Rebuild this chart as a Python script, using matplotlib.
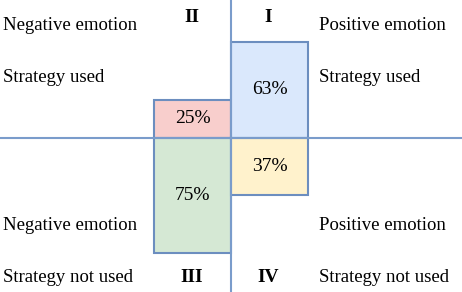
import matplotlib.pyplot as plt

# shares per group (percent)
groups = ['Negative emotion', 'Positive emotion']
used = [25, 63]
not_used = [75, 37]
used_colors = ['#F8CECC', '#DAE8FC']
not_used_colors = ['#D5E8D4', '#FFF2CC']
quadrants = ['II', 'I', 'III', 'IV']

plt.rcParams['font.family'] = ['Liberation Serif', 'DejaVu Serif']

fig = plt.figure(figsize=(4.62, 2.92), dpi=100)
ax = fig.add_axes([0, 0, 1, 1])

xpos = [-0.5, 0.5]
edge = '#6C8EBF'
ax.bar(xpos, used, width=1, color=used_colors, edgecolor=edge, linewidth=1.5, zorder=2)
ax.bar(xpos, [-v for v in not_used], width=1, color=not_used_colors, edgecolor=edge,
       linewidth=1.5, zorder=2)

for x, u, n in zip(xpos, used, not_used):
    ax.text(x, u / 2, f'{u}%', ha='center', va='center', fontsize=14, zorder=3)
    ax.text(x, -n / 2, f'{n}%', ha='center', va='center', fontsize=14, zorder=3)

ax.axhline(0, color='#7A9CCB', linewidth=1.5, zorder=3)
ax.axvline(0, color='#7A9CCB', linewidth=1.5, zorder=3)

ax.set_xlim(-3, 3)
ax.set_ylim(-100.6, 90.2)
ax.axis('off')

def px(x, y):
    return x / 462, 1 - y / 292

# quadrant numerals
for (x, y), q in zip([(192, 18), (268, 18), (192, 277), (268, 277)], quadrants):
    ax.text(*px(x, y), q, transform=ax.transAxes, ha='center', va='center',
            fontsize=14, fontweight='bold')

# side labels
left = [(groups[0], 26), ('Strategy used', 78), (groups[0], 226), ('Strategy not used', 277)]
right = [(groups[1], 26), ('Strategy used', 78), (groups[1], 226), ('Strategy not used', 277)]
for t, y in left:
    ax.text(*px(3, y), t, transform=ax.transAxes, ha='left', va='center', fontsize=13.5)
for t, y in right:
    ax.text(*px(319, y), t, transform=ax.transAxes, ha='left', va='center', fontsize=13.5)

fig.savefig('out.png', dpi=100)
